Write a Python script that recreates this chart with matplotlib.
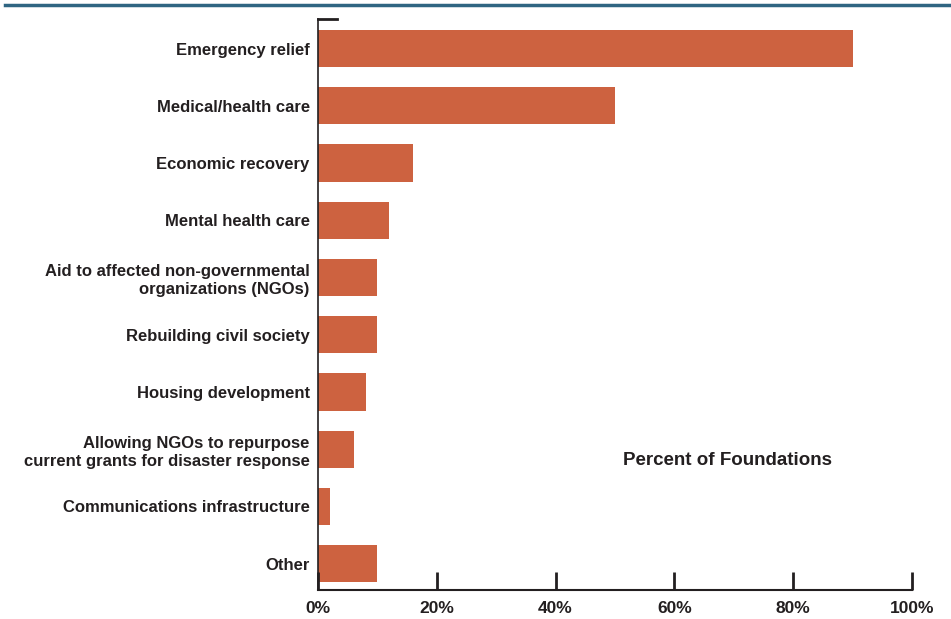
import matplotlib.pyplot as plt
from matplotlib.lines import Line2D

# share of foundations by type of support
categories = [
    'Emergency relief',
    'Medical/health care',
    'Economic recovery',
    'Mental health care',
    'Aid to affected non-governmental\norganizations (NGOs)',
    'Rebuilding civil society',
    'Housing development',
    'Allowing NGOs to repurpose\ncurrent grants for disaster response',
    'Communications infrastructure',
    'Other',
]
values = [90, 50, 16, 12, 10, 10, 8, 6, 2, 10]
xticks = [0, 20, 40, 60, 80, 100]
xtick_labels = ['0%', '20%', '40%', '60%', '80%', '100%']

plt.rcParams['font.family'] = ['Liberation Sans', 'DejaVu Sans']

fig = plt.figure(figsize=(9.51, 6.19), dpi=100)
ax = fig.add_axes([318 / 951, 1 - 590 / 619, (912 - 318) / 951, (590 - 19) / 619])

ypos = list(range(len(categories)))
ax.barh(ypos, values, height=0.65, color='#cd6240')
ax.set_ylim(9.46, -0.516)
ax.set_xlim(0, 100)

ax.set_yticks(ypos)
ax.set_yticklabels(categories, fontsize=12, fontweight='bold', color='#231f20',
                   linespacing=1.25)
ax.tick_params(axis='y', length=0, pad=6)

ax.set_xticks(xticks)
ax.set_xticklabels(xtick_labels, fontsize=12.5, fontweight='bold', color='#231f20')
ax.tick_params(axis='x', direction='in', length=13, width=2, color='#231f20', pad=8)

ax.spines['right'].set_visible(False)
ax.spines['top'].set_bounds(0, 3.2)
ax.spines['top'].set_linewidth(2)
ax.spines['top'].set_color('#231f20')
ax.spines['left'].set_color('#231f20')
ax.spines['left'].set_linewidth(1.2)
ax.spines['bottom'].set_color('#231f20')
ax.spines['bottom'].set_linewidth(1.5)

ax.text(0.69, 0.226, 'Percent of Foundations', transform=ax.transAxes,
        ha='center', va='center', fontsize=13.5, fontweight='bold', color='#231f20')

# header rule
fig.add_artist(Line2D([5 / 951, 1], [1 - 5 / 619] * 2, color='#2f6582', lw=2.5))

fig.savefig('out.png', dpi=100)
